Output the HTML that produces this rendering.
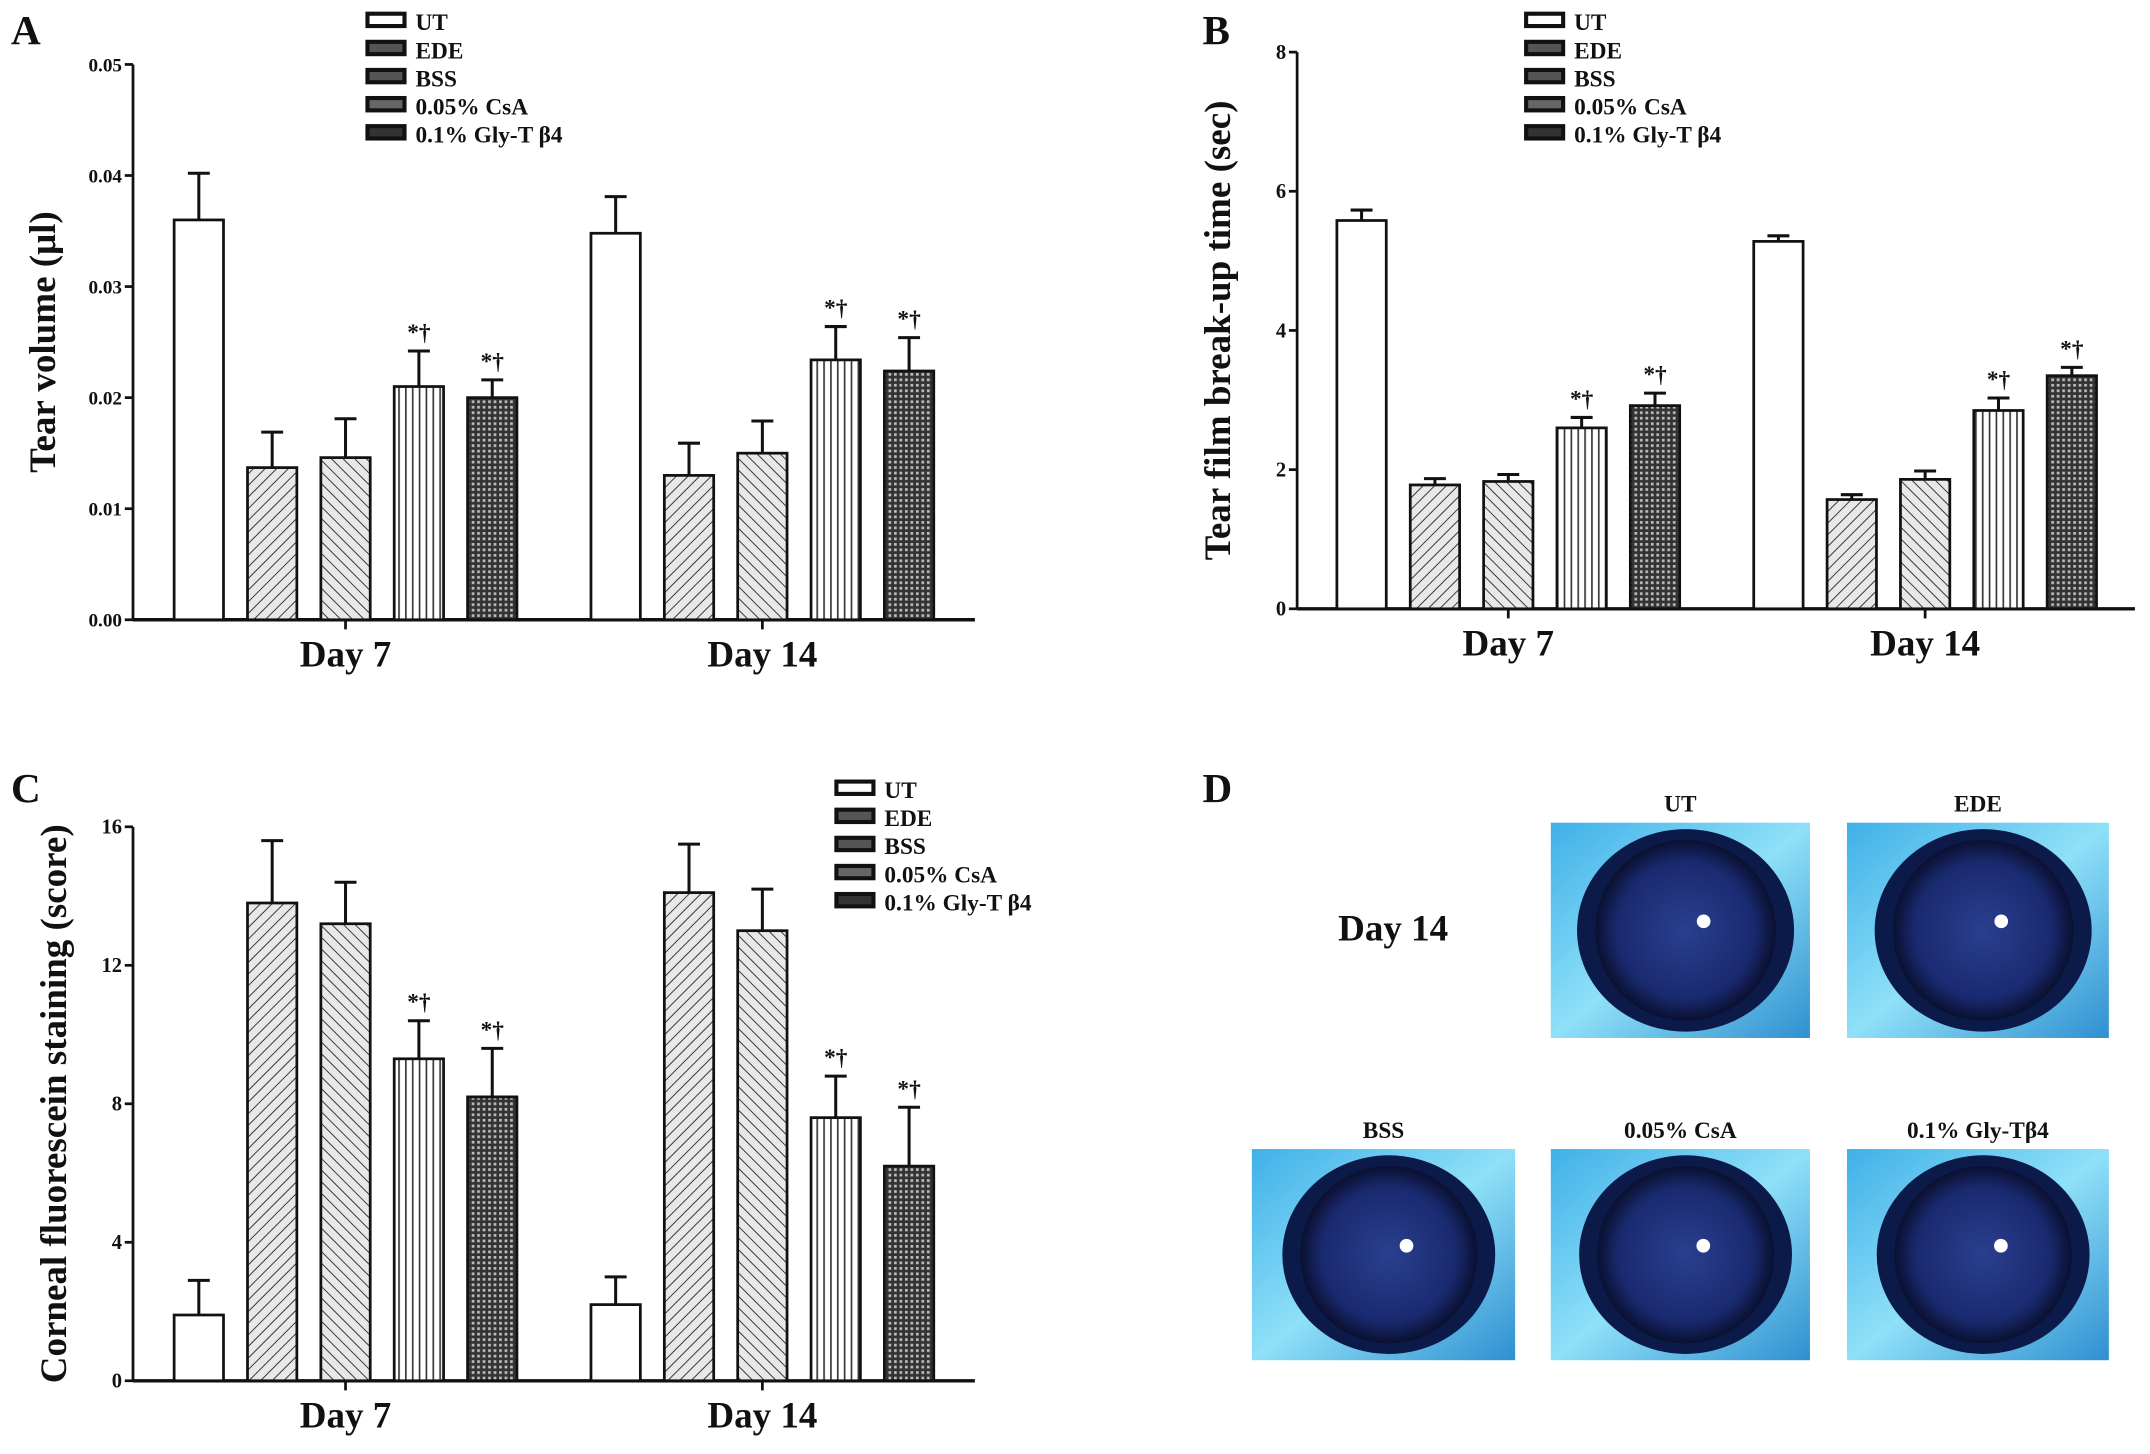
<!DOCTYPE html>
<html><head><meta charset="utf-8"><style>
html,body{margin:0;padding:0;background:#fff}
svg{display:block}
text{font-family:"Liberation Serif",serif;font-weight:bold;fill:#111}
</style></head><body>
<svg id="fig" width="2150" height="1454" viewBox="0 0 1568 1060.4" preserveAspectRatio="none" xmlns="http://www.w3.org/2000/svg">
<defs>
<pattern id="pEDE" width="6" height="6" patternUnits="userSpaceOnUse" patternTransform="rotate(45)"><rect width="6" height="6" fill="#e8e8e8"/><line x1="0" y1="0" x2="0" y2="6" stroke="#333" stroke-width="1.4"/></pattern>
<pattern id="pBSS" width="6" height="6" patternUnits="userSpaceOnUse" patternTransform="rotate(-45)"><rect width="6" height="6" fill="#e8e8e8"/><line x1="0" y1="0" x2="0" y2="6" stroke="#333" stroke-width="1.4"/></pattern>
<pattern id="pCSA" width="5" height="6" patternUnits="userSpaceOnUse"><rect width="5" height="6" fill="#fff"/><line x1="1" y1="0" x2="1" y2="6" stroke="#333" stroke-width="1.2"/></pattern>
<pattern id="pGLY" width="4" height="4" patternUnits="userSpaceOnUse"><rect width="4" height="4" fill="#333"/><rect x="0" y="0" width="2" height="2" fill="#bbb"/></pattern>
<radialGradient id="eye" cx="0.5" cy="0.5" r="0.5"><stop offset="0" stop-color="#2a3f8f"/><stop offset="0.75" stop-color="#1a2a70"/><stop offset="1" stop-color="#0a1030"/></radialGradient>
<linearGradient id="bg" x1="0" y1="0" x2="1" y2="1"><stop offset="0" stop-color="#3fb0e8"/><stop offset="0.5" stop-color="#8fe0f8"/><stop offset="1" stop-color="#2f8fd0"/></linearGradient>
</defs>
<g id="chartA"></g>
<g id="chartB"></g>
<g id="chartC"></g>
<g id="panelD"></g>
</svg>
<script>
const NS="http://www.w3.org/2000/svg";
const groups=["UT","EDE","BSS","0.05% CsA","0.1% Gly-T β4"];
const days=["Day 7","Day 14"];
const fills=["#fff","url(#pEDE)","url(#pBSS)","url(#pCSA)","url(#pGLY)"];
const legendFills=["#fff","#555","#555","#666","#333"];
const aDay7=[0.036,0.0137,0.0146,0.021,0.020];
const aDay7Err=[0.0042,0.0032,0.0035,0.0032,0.0016];
const aDay14=[0.0348,0.013,0.015,0.0234,0.0224];
const aDay14Err=[0.0033,0.0029,0.0029,0.003,0.003];
const aTicks=["0.00","0.01","0.02","0.03","0.04","0.05"];
const bDay7=[5.58,1.78,1.83,2.6,2.92];
const bDay7Err=[0.15,0.09,0.1,0.15,0.18];
const bDay14=[5.28,1.57,1.86,2.85,3.35];
const bDay14Err=[0.08,0.07,0.12,0.18,0.12];
const bTicks=["0","2","4","6","8"];
const cDay7=[1.9,13.8,13.2,9.3,8.2];
const cDay7Err=[1.0,1.8,1.2,1.1,1.4];
const cDay14=[2.2,14.1,13.0,7.6,6.2];
const cDay14Err=[0.8,1.4,1.2,1.2,1.7];
const cTicks=["0","4","8","12","16"];
const sig=[false,false,false,true,true];

function el(tag,attrs,parent,txt){const e=document.createElementNS(NS,tag);for(const k in attrs)e.setAttribute(k,attrs[k]);if(txt!==undefined)e.textContent=txt;parent.appendChild(e);return e;}

function chart(g,o){
  const yMax=parseFloat(o.ticks[o.ticks.length-1]);
  const Y=v=>o.y0-(v/yMax)*(o.y0-o.yTop);
  const ya=el("line",{x1:o.ax,y1:o.yTop,x2:o.ax,y2:o.y0,stroke:"#111","stroke-width":2},g);
  
  const xa=el("line",{x1:o.ax,y1:o.y0,x2:o.ax2,y2:o.y0,stroke:"#111","stroke-width":2.5},g);
  
  o.ticks.forEach(t=>{const y=Y(parseFloat(t));
    el("line",{x1:o.ax-6,y1:y,x2:o.ax,y2:y,stroke:"#111","stroke-width":2},g);
    const tl=el("text",{x:o.ax-8,y:y+5,"text-anchor":"end","font-size":o.tfs},g,t);
    });
  const yt=el("text",{x:0,y:0,"text-anchor":"middle","font-size":27,transform:`translate(${o.ytx},${(o.y0+o.yTop)/2}) rotate(-90)`},g,o.ytitle);
  
  const data=[[o.d7,o.e7],[o.d14,o.e14]];
  data.forEach(([vals,errs],di)=>{
    const start=o.starts[di];
    vals.forEach((v,i)=>{
      const x=start+i*53.5, w=36, y=Y(v), ye=Y(v+errs[i]), cx=x+w/2;
      const eb=el("line",{x1:cx,y1:y,x2:cx,y2:ye,stroke:"#111","stroke-width":2.2},g);
      
      el("line",{x1:cx-8,y1:ye,x2:cx+8,y2:ye,stroke:"#111","stroke-width":2.2},g);
      const r=el("rect",{x:x,y:y,width:w,height:o.y0-y,fill:fills[i],stroke:"#111","stroke-width":2},g);
      
      
      if(sig[i]){const s=el("text",{x:cx,y:ye-8,"text-anchor":"middle","font-size":17,fill:"#333"},g,"*†");
        }
    });
    const dc=start+2*53.5+18;
    el("line",{x1:dc,y1:o.y0,x2:dc,y2:o.y0+7,stroke:"#111","stroke-width":2},g);
    const dl=el("text",{x:dc,y:o.y0+34,"text-anchor":"middle","font-size":27},g,days[di]);
    
  });
  const pl=el("text",{x:o.px,y:o.py,"font-size":30},g,o.letter);
  
  groups.forEach((n,i)=>{const y=o.ly+i*20.5;
    const lb=el("rect",{x:o.lx,y:y-9,width:27,height:9,fill:legendFills[i],stroke:"#111","stroke-width":3},g);
    
    const lt=el("text",{x:o.lx+35,y:y+3,"font-size":17},g,n);
    });
}
chart(document.getElementById("chartA"),{ax:97,ax2:711,y0:452,yTop:47,ticks:aTicks,tfs:14,d7:aDay7,e7:aDay7Err,d14:aDay14,e14:aDay14Err,starts:[127,431],ytitle:"Tear volume (μl)",ytx:40,letter:"A",px:8,py:32,lx:268,ly:19});
chart(document.getElementById("chartB"),{ax:946,ax2:1557,y0:444,yTop:38,ticks:bTicks,tfs:15,d7:bDay7,e7:bDay7Err,d14:bDay14,e14:bDay14Err,starts:[975,1279],ytitle:"Tear film break-up time (sec)",ytx:897,letter:"B",px:877,py:32,lx:1113,ly:19});
chart(document.getElementById("chartC"),{ax:97,ax2:711,y0:1007,yTop:603,ticks:cTicks,tfs:15,d7:cDay7,e7:cDay7Err,d14:cDay14,e14:cDay14Err,starts:[127,431],ytitle:"Corneal fluorescein staining (score)",ytx:48,letter:"C",px:8,py:585,lx:610,ly:579});

const D=document.getElementById("panelD");
const photos=[["UT",1131,600,189,157],["EDE",1347,600,191,157],["BSS",913,838,192,154],["0.05% CsA",1131,838,189,154],["0.1% Gly-Tβ4",1347,838,191,154]];
const pl=el("text",{x:877,y:585,"font-size":30},D,"D");

const dt=el("text",{x:1016,y:686,"text-anchor":"middle","font-size":27},D,"Day 14");

photos.forEach(([n,x,y,w,h])=>{
  const g=el("g",{},D);
  
  el("rect",{x:x,y:y,width:w,height:h,fill:"url(#bg)"},g);
  const cx=x+w*0.52,cy=y+h*0.5,r=h*0.42;
  el("ellipse",{cx:cx,cy:cy,rx:r*1.2,ry:r*1.12,fill:"#0c1a4a"},g);
  el("circle",{cx:cx,cy:cy,r:r,fill:"url(#eye)"},g);
  el("circle",{cx:cx+r*0.2,cy:cy-r*0.1,r:5,fill:"#fff"},g);
  const t=el("text",{x:x+w/2,y:y-8,"text-anchor":"middle","font-size":17},D,n);
  
});
</script>
</body></html>
